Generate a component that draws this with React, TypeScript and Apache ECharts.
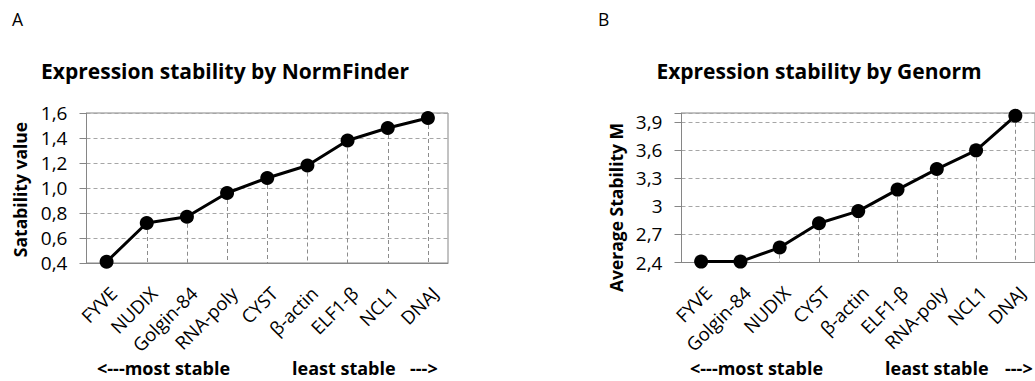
import React, { useEffect, useRef } from "react";
import * as echarts from "echarts";

const nfCategories = ["FYVE", "NUDIX", "Golgin-84", "RNA-poly", "CYST", "β-actin", "ELF1-β", "NCL1", "DNAJ"];
const nfValues = [0.41, 0.72, 0.77, 0.96, 1.08, 1.18, 1.38, 1.48, 1.56];
const nfMin = 0.4;
const nfMax = 1.6;
const nfStep = 0.2;

const gnCategories = ["FYVE", "Golgin-84", "NUDIX", "CYST", "β-actin", "ELF1-β", "RNA-poly", "NCL1", "DNAJ"];
const gnValues = [2.41, 2.41, 2.56, 2.82, 2.95, 3.18, 3.4, 3.6, 3.97];
const gnMin = 2.4;
const gnMax = 4.0;
const gnStep = 0.3;

const FONT = "Open Sans";
const AXIS = "#868686";
const GRID = "#a6a6a6";

function dropLines(cats: string[], vals: number[], min: number) {
  return cats.map((c, i) => [{ coord: [c, vals[i]] }, { coord: [c, min] }]);
}

function makeAxes(idx: number, cats: string[], min: number, max: number, step: number, fmt: (v: number) => string) {
  const x = {
    type: "category",
    gridIndex: idx,
    data: cats,
    boundaryGap: true,
    axisLine: { show: true, lineStyle: { color: AXIS, width: 1 } },
    axisTick: { show: false },
    splitLine: { show: false },
    axisLabel: {
      rotate: 45,
      margin: 20,
      fontSize: 18.5,
      color: "#000",
      fontFamily: FONT,
      interval: 0,
      verticalAlign: "top",
    },
  };
  const y = {
    type: "value",
    gridIndex: idx,
    min,
    max,
    interval: step,
    axisLine: { show: true, lineStyle: { color: AXIS, width: 1 } },
    axisTick: { show: true, length: 7, lineStyle: { color: AXIS } },
    splitLine: { show: true, lineStyle: { color: GRID, type: [4, 3], width: 1 } },
    axisLabel: { fontSize: 19, color: "#000", fontFamily: FONT, margin: 19, formatter: fmt },
  };
  return { x, y };
}

export default function App() {
  const ref = useRef<HTMLDivElement>(null);
  useEffect(() => {
    if (!ref.current) return;
    const chart = echarts.init(ref.current, undefined, { renderer: "svg" });
    const a = makeAxes(0, nfCategories, nfMin, nfMax, nfStep, (v) => v.toFixed(1).replace(".", ","));
    const b = makeAxes(1, gnCategories, gnMin, gnMax, gnStep, (v) => {
      if (Math.abs(v - gnMax) < 1e-6) return "";
      return String(Math.round(v * 10) / 10).replace(".", ",");
    });
    const series = (idx: number, cats: string[], vals: number[], min: number) => ({
      type: "line",
      xAxisIndex: idx,
      yAxisIndex: idx,
      data: vals,
      symbol: "circle",
      symbolSize: 14,
      lineStyle: { color: "#000", width: 3 },
      itemStyle: { color: "#000" },
      z: 3,
      markLine: {
        silent: true,
        symbol: ["none", "none"],
        z: 1,
        label: { show: false },
        lineStyle: { color: "#8c8c8c", type: [4, 3], width: 1 },
        emphasis: { disabled: true },
        data: dropLines(cats, vals, min),
      },
    });
    const text = (x: number, y: number, t: string, size: number, bold: boolean, extra: any = {}) => ({
      type: "text",
      x,
      y,
      ...extra,
      style: {
        text: t,
        fontSize: size,
        fontWeight: bold ? "bold" : "normal",
        fontFamily: FONT,
        fill: "#000",
        textVerticalAlign: "middle",
        verticalAlign: "middle",
        ...(extra.style || {}),
      },
    });
    const center = { style: { textAlign: "center", align: "center" } };
    chart.setOption({
      animation: false,
      backgroundColor: "#fff",
      grid: [
        { left: 86.5, top: 113, width: 361.5, height: 150, show: true, borderColor: AXIS, borderWidth: 1, containLabel: false },
        { left: 681.5, top: 113, width: 361.5, height: 149.5, show: true, borderColor: AXIS, borderWidth: 1, containLabel: false },
      ],
      xAxis: [a.x, b.x],
      yAxis: [a.y, b.y],
      series: [series(0, nfCategories, nfValues, nfMin), series(1, gnCategories, gnValues, gnMin)],
      graphic: [
        text(12, 19, "A", 17.5, false),
        text(598, 19, "B", 17.5, false),
        text(225, 71, "Expression stability by NormFinder", 21, true, center),
        text(819, 71, "Expression stability by Genorm", 21, true, center),
        text(20, 189.5, "Satability value", 17.5, true, { rotation: Math.PI / 2, ...center }),
        text(616, 207.5, "Average Stability M", 17.5, true, { rotation: Math.PI / 2, ...center }),
        text(97, 368, "<---most stable", 18, true),
        text(292, 368, "least stable", 18, true),
        text(410, 368, "--->", 18, true),
        text(690, 368, "<---most stable", 18, true),
        text(885, 368, "least stable", 18, true),
        text(1005, 368, "--->", 18, true),
      ],
    });
    return () => chart.dispose();
  }, []);
  return (
    <div
      ref={ref}
      style={{ position: "absolute", left: 0, top: 0, width: 1035, height: 381, background: "#fff" }}
    />
  );
}
